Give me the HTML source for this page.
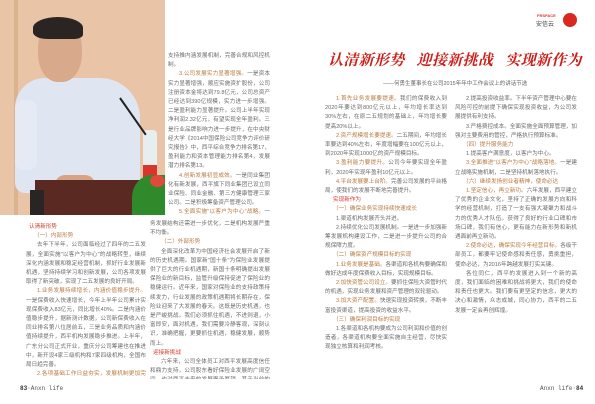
<!DOCTYPE html>
<html><head><meta charset="utf-8">
<style>
*{margin:0;padding:0;box-sizing:border-box}
body{width:595px;height:404px;background:#fff;position:relative;overflow:hidden;font-family:"Liberation Sans","Noto Sans CJK SC",sans-serif}
.col{position:absolute;font-size:5.6px;line-height:9.2px;color:#6a6a6a;text-align:justify;overflow:hidden;font-family:"Liberation Sans","Noto Sans CJK SC",sans-serif}
.col p{text-indent:11px}
.h{color:#b8793f}
.r{color:#d23a2a;text-indent:11px}
.photo{position:absolute;left:0;top:0;width:165px;height:215px;background:#e9c4a6;overflow:hidden}
</style></head><body>
<div class="photo">
  <div style="position:absolute;left:14px;top:0;width:4px;height:215px;background:#dcb391"></div>
  <div style="position:absolute;left:15px;top:78px;width:125px;height:115px;background:#dfe6f2;border-radius:30px 40px 10px 10px"></div>
  <div style="position:absolute;left:15px;top:100px;width:22px;height:70px;background:#e5eaf4;border-radius:8px"></div>
  <div style="position:absolute;left:38px;top:20px;width:44px;height:62px;background:#d8a98b;border-radius:45%"></div>
  <div style="position:absolute;left:33px;top:17px;width:50px;height:22px;background:#2a2522;border-radius:50% 50% 20% 30%"></div>
  <div style="position:absolute;left:55px;top:175px;width:40px;height:20px;background:#d6a385;border-radius:10px"></div>
  <div style="position:absolute;left:35px;top:180px;width:115px;height:35px;background:#5a2a22"></div>
  <div style="position:absolute;left:30px;top:190px;width:14px;height:25px;background:#2a2525"></div>
  <div style="position:absolute;left:143px;top:130px;width:14px;height:52px;background:#e6eef0;border-radius:4px 4px 0 0"></div>
  <div style="position:absolute;left:143px;top:165px;width:14px;height:17px;background:#d8352c"></div>
  <div style="position:absolute;left:119px;top:98px;width:2px;height:45px;background:#222;transform:rotate(-35deg);transform-origin:top"></div>
  <div style="position:absolute;left:132px;top:175px;width:40px;height:45px;background:#2f8a2c;border-radius:50% 0 0 0"></div>
  <div style="position:absolute;left:150px;top:175px;width:15px;height:12px;background:#e04a3a;border-radius:50%"></div>
</div>

<div style="position:absolute;left:537px;top:13px;font-size:4px;color:#d33;font-weight:bold">FRSPACE</div>
<div style="position:absolute;left:536px;top:19px;font-size:6px;color:#444">安信云</div>
<div style="position:absolute;left:563px;top:13px;width:14px;height:14px;border-radius:50%;background:#d8281f"></div>

<div style="position:absolute;left:328px;top:50px;width:260px;font-size:15px;line-height:20px;color:#cc1f1a;font-style:italic;font-weight:bold;font-family:'Noto Serif CJK SC','Liberation Serif',serif;white-space:nowrap;letter-spacing:0.3px">认清新形势&nbsp;&nbsp; 迎接新挑战&nbsp;&nbsp; 实现新作为</div>
<div style="position:absolute;left:383px;top:79px;font-size:5.5px;color:#666;white-space:nowrap">——何勇生董事长在公司2015年年中工作会议上的讲话节选</div>

<div class="col" style="left:168px;top:52px;width:102px;height:166px">
<p style="text-indent:0">支持推内涵发展机制，完善合规和风控机制。</p>
<p><span class="h">3.公司发展实力显著增强。</span>一是资本实力显著增强，顺应实施资扩股份，公司注册资本金将达到79.8亿元，公司总资产已经达到390亿规模，实力进一步增强。二是盈利能力显著提升。公司上半年实现净利润2.32亿元，有望实现全年盈利。三是行业品牌影响力进一步提升，在中央财经大学《2014中国保险公司竞争力评价研究报告》中，西平综合竞争力排名第17，盈利能力和资本管理能力排名第4，发展潜力排名第13。</p>
<p><span class="h">4.创新发展初显成效。</span>一是同业集团化有新发展，西平旗下同业集团已设立同业保险、同业金融、第三方健康管理三家公司。二是积极筹备资产管理公司。</p>
<p><span class="h">5.全面实施"以客户为中心"战略。</span>一是统一思想，形成共识。二是推动落实客户体验项目。三是各渠道各部门积极贯彻落实。</p>
<p><span class="h">6.问题和不足。</span>在公司整体发展稳步向前的同时，我们要清醒地看到我们的问题和挑战。一是业</p>
</div>

<div class="col" style="left:26px;top:223px;width:120px;height:156px">
<div class="r" style="text-indent:3px">认清新形势</div>
<div class="h" style="text-indent:8px">（一）内部形势</div>
<p>去年下半年，公司面临经过了四年的二五发展，全面实施"以客户为中心"的战略转型，继续深化内涵发展和稳定经营机制，抓好行业发展新机遇，坚持持续学习和创新发展，公司各项发展取得了新突破，实现了二五发展的良好开局。</p>
<p><span class="h">1.业务发展持续增长，内涵价值稳步提升。</span>一是保费收入快速增长，今年上半年公司累计实现保费收入83亿元，同比增长40%。二是内涵价值稳步提升，据新测计数据，公司新保费收入在同业排名第八位居前五，三是业务品质和内涵价值持续提升，西平机构发展稳步推进。上半年，广东分公司正式开业，重庆分公司筹建也在推进中，新开设4家三级机构和7家四级机构，全国布局日趋完善。</p>
<p><span class="h">2.各项基础工作日益夯实，发展机制更加完善。</span>一是资源配置更加科学，公司加大了对业务渠道和机构的政策资源支持。二是发展机制更加优化，深化产品研发机制，深化自</p>
</div>

<div class="col" style="left:150px;top:220px;width:120px;height:159px">
<p style="text-indent:0">务发展结构还需进一步优化，二是机构发展严重不均衡。</p>
<div class="h" style="text-indent:11px">（二）外部形势</div>
<p>全面深化改革为中国经济社会发展开启了新的历史机遇期。国家新"国十条"为保险业发展提供了巨大的行业机遇期，新国十条明确提出发展保险业的新目标，监管升级保持促进了保险业的稳健运行。近年来，国家对保险业的支持政策持续发力，行业发展的政策机遇期将长期存在，保险业迎来了大发展的春天。这既是历史机遇，也是严峻挑战，我们必须抓住机遇，不进则退，小富即安，面对机遇，我们需要冷静客观，深刻认识，准确把握，更要抓住机遇，稳健发展，顺势而上。</p>
<div class="r" style="text-indent:3px">迎接新挑战</div>
<p>六年来，公司全体员工对西平发展高度信任和鼎力支持，公司股东看好保险业发展的广阔空间，也对西平未来的发展寄予厚望。基于当前的发展形势和股东的要求，我们必须加快发展，提前实现二五规划。</p>
</div>

<div class="col" style="left:325px;top:95px;width:122px;height:278px">
<p><span class="h">1.首先业务发展要提速。</span>我们的保费收入到2020年要达到800亿元以上，年均增长率达到30%左右，在原二五规划的基础上，年均增长要提高20%以上。</p>
<p><span class="h">2.资产规模增长要提速。</span>二五期间，年均增长率要达到40%左右，年度增幅要在100亿元以上，到2020年实现1000亿的资产规模目标。</p>
<p><span class="h">3.盈利能力要提升。</span>公司今年要实现全年盈利，2020年实现年盈利10亿元以上。</p>
<p><span class="h">4.平台发展要上台阶。</span>完善公司发展的平台格局，使我们的发展不断地完善提升。</p>
<div class="r" style="text-indent:8px">实现新作为</div>
<div class="h" style="text-indent:8px">（一）确保业务实现持续快速成长</div>
<p>1.渠道机构发展齐头并进。</p>
<p>2.持续优化公司发展机制。一是进一步加强新筹发展机构建设工作，二是进一步提升公司的合规保障力度。</p>
<div class="h" style="text-indent:8px">（二）确保资产规模目标的实现</div>
<p><span class="h">1.业务发展是基础。</span>各渠道和各机构要确保和做好达成年度保费收入目标，实现规模目标。</p>
<p><span class="h">2.加快资管公司设立。</span>要抓住保险大资管时代的机遇，实现业务发展和资产管理的双轮驱动。</p>
<p><span class="h">3.加大资产配置。</span>快速实现投资转换，不断丰富投资渠道，提高投资的收益水平。</p>
<div class="h" style="text-indent:8px">（三）确保利润目标的实现</div>
<p>1.各渠道和各机构要成为公司利润和价值的创造者，各渠道机构要全面实施自主经营，尽快实现独立核算和利润考核。</p>
</div>

<div class="col" style="left:455px;top:95px;width:122px;height:278px">
<p>2.提高投资收益率。下半年资产管理中心要在风险可控的前提下确保实现投资收益，为公司发展提供有利支持。</p>
<p>3.严格费控成本。全面实施全面预算管理，加强对主要费用的管控，严格执行预算标准。</p>
<div class="h" style="text-indent:8px">（四）提升服务能力</div>
<p>1.提高客户满意度，以客户为中心。</p>
<p><span class="h">3.全面推进"以客户为中心"战略落地。</span>一是建立战略实施机制，二是坚持机制落地执行。</p>
<div class="h" style="text-indent:8px">（六）继续发扬创业者精神，使命必达</div>
<p><span class="h">1.坚定信心，再立新功。</span>六年发展，西平建立了优秀的企业文化，坚持了正确的发展方向和科学的经营机制，打造了一支有强大凝聚力和战斗力的优秀人才队伍。获得了良好的行业口碑和市场口碑，我们有信心，更有能力在新形势和新机遇面前再立新功。</p>
<p><span class="h">2.使命必达，确保实现今年经营目标。</span>各级干部员工，都要牢记使命感和责任感，勇挑重担，使命必达，为2016年跨越发展打实关键。</p>
<p>各位同仁，西平的发展进入到一个新的高度，我们面临的困难和挑战将更大，我们的使命和责任也更大。我们要有更坚定的信念，更大的决心和激情，众志成城，同心协力，西平的二五发展一定会再创辉煌。</p>
</div>

<div style="position:absolute;left:20px;top:385px;font-size:6px;color:#555;font-family:'Liberation Mono',monospace"><b style="color:#333">83</b>·Anxn life</div>
<div style="position:absolute;left:540px;top:385px;font-size:6px;color:#555;font-family:'Liberation Mono',monospace">Anxn life·<b style="color:#333">84</b></div>
</body></html>
